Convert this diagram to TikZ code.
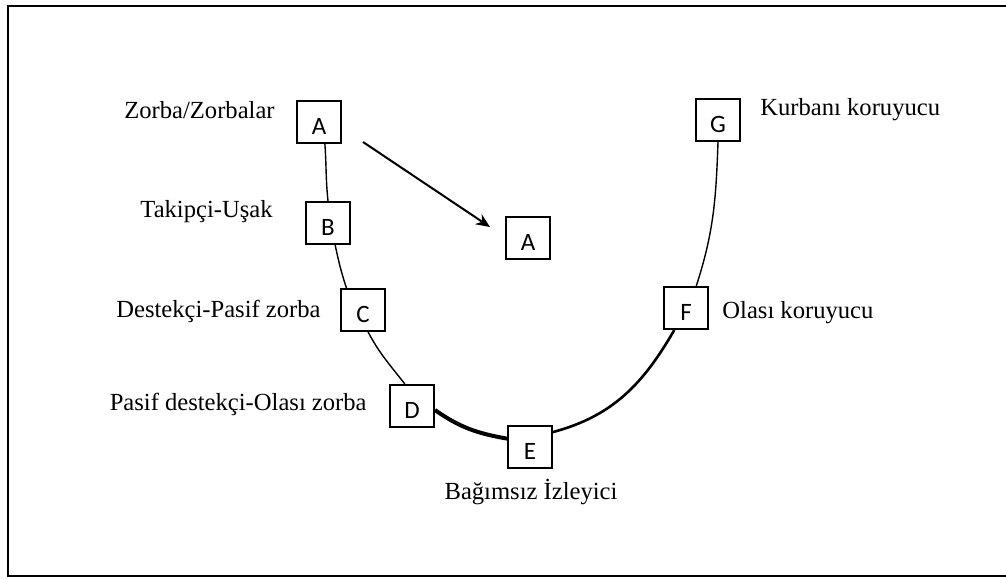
\documentclass[tikz,border=0pt]{standalone}
\usepackage{fontspec}
\setmainfont{Liberation Serif}
\newfontfamily\boxfont{Carlito}
\usetikzlibrary{arrows.meta}
\begin{document}
\begin{tikzpicture}[x=0.5pt,y=0.5pt,
  letterbox/.style={draw,line width=1pt,minimum width=22pt,minimum height=21pt,inner sep=0pt,text height=13pt,text depth=0pt,font=\boxfont\fontsize{12.5}{14}\selectfont},
  lbl/.style={font=\fontsize{12.3}{14}\selectfont,inner sep=0pt},
  arcthin/.style={line width=0.7pt},
  arcmid/.style={line width=1.3pt},
  arcthick/.style={line width=2pt},
  pointer/.style={-{Stealth[length=7pt,width=6pt]},line width=1pt}]
\useasboundingbox (0,0) rectangle (1006,578);
\clip (0,0) rectangle (1006,578);
\draw[line width=1.3pt] (8,2) rectangle (1014,572);

\node[letterbox] (A)  at (319,456) {A};
\node[letterbox] (A2) at (528,340) {A};
\node[letterbox] (B)  at (328,355) {B};
\node[letterbox] (C)  at (363,268) {C};
\node[letterbox] (D)  at (412,172) {D};
\node[letterbox] (E)  at (530,131) {E};
\node[letterbox] (F)  at (686,270) {F};
\node[letterbox] (G)  at (718,458) {G};

\node[lbl,anchor=base east] (lA) at (275,459) {Zorba/Zorbalar};
\node[lbl,anchor=base east] (lB) at (273,360) {Takipçi-Uşak};
\node[lbl,anchor=base east] (lC) at (321,260) {Destekçi-Pasif zorba};
\node[lbl,anchor=base east] (lD) at (367,167) {Pasif destekçi-Olası zorba};
\node[lbl,anchor=base] (lE) at (531,78) {Bağımsız İzleyici};
\node[lbl,anchor=base west] (lG) at (760,462) {Kurbanı koruyucu};
\node[lbl,anchor=base west] (lF) at (722,259) {Olası koruyucu};

\draw[arcthin] (A.-75) to[out=-86,in=96] (B.north);
\draw[arcthin] (B.-72) to[out=-78,in=108] (C.127);
\draw[arcthin] (C.-77) to[out=-62,in=128] (D.108);
\draw[arcthick] (D.-10) to[out=-35,in=170] (E.160);
\draw[arcmid] (E.33) to[out=15,in=-120] (F.-118);
\draw[arcthin] (F.65) to[out=72,in=-92] (G.south);

\coordinate (arrS) at (363,436);
\coordinate (arrE) at (490,351);
\draw[pointer] (arrS) -- (arrE);
\end{tikzpicture}
\end{document}
